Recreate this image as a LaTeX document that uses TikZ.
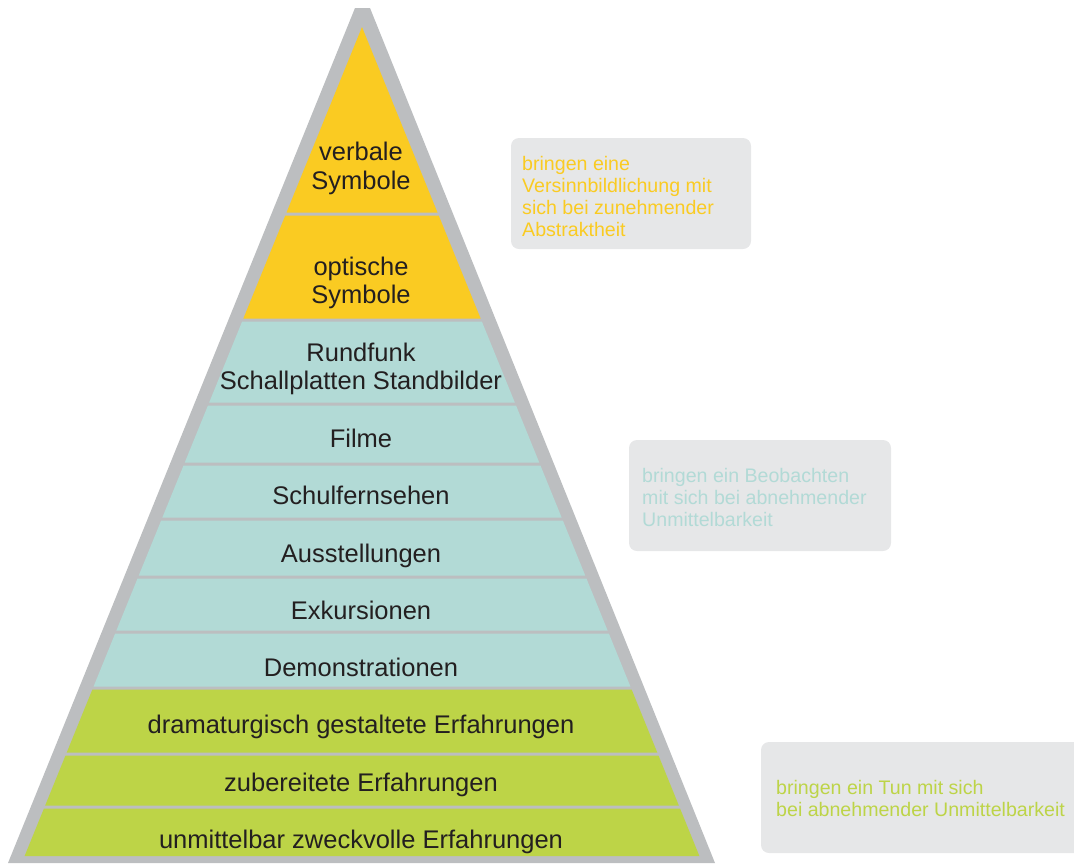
\documentclass[tikz,border=0pt]{standalone}
\usepackage{fontspec}
\setmainfont{Liberation Sans}
\definecolor{pgrey}{HTML}{BCBEC0}
\definecolor{pyellow}{HTML}{FACB22}
\definecolor{pteal}{HTML}{B2DAD6}
\definecolor{pgreen}{HTML}{BDD447}
\definecolor{boxbg}{HTML}{E6E7E8}
\definecolor{ink}{HTML}{231F20}
% one horizontal slice of the inner pyramid, between heights #2 and #3
\newcommand\pyrband[3]{%
  \pgfmathsetmacro\pa{362-0.407*(#2-27)}%
  \pgfmathsetmacro\pb{362+0.407*(#2-27)}%
  \pgfmathsetmacro\pc{362+0.407*(#3-27)}%
  \pgfmathsetmacro\pd{362-0.407*(#3-27)}%
  \fill[#1] (\pa,#2) -- (\pb,#2) -- (\pc,#3) -- (\pd,#3) -- cycle;}
\begin{document}
\begin{tikzpicture}[x=1pt,y=-1pt,
  level/.style={inner sep=0pt, align=center, text=ink,
    font=\fontsize{25.5}{28.5}\selectfont},
  oneline/.style={level, text height=18pt, text depth=5pt},
  note/.style={fill=boxbg, rounded corners=8pt, inner sep=0pt},
  notetext/.style={inner sep=0pt, anchor=west, align=left,
    font=\fontsize{19.6}{22.3}\selectfont}]
\useasboundingbox (0,0) rectangle (1074,863);

% grey frame of the pyramid
\fill[pgrey] (355,8) -- (370,8) -- (715,863) -- (8,863) -- cycle;

% coloured slices
\pyrband{pyellow}{27}{212.5}
\pyrband{pyellow}{215.5}{318.5}
\pyrband{pteal}{321.5}{402.5}
\pyrband{pteal}{405.5}{462.5}
\pyrband{pteal}{465.5}{517.5}
\pyrband{pteal}{520.5}{575.5}
\pyrband{pteal}{578.5}{630.5}
\pyrband{pteal}{633.5}{686.5}
\pyrband{pgreen}{689.5}{752.5}
\pyrband{pgreen}{755.5}{805.5}
\pyrband{pgreen}{808.5}{856}

% level labels
\node[level] (l1) at (361,168.5) {verbale\\Symbole};
\node[level] (l2) at (361,283) {optische\\Symbole};
\node[level] (l3) at (361,369) {Rundfunk\\Schallplatten Standbilder};
\node[oneline] (l4) at (361,441) {Filme};
\node[oneline] (l5) at (361,498) {Schulfernsehen};
\node[oneline] (l6) at (361,556) {Ausstellungen};
\node[oneline] (l7) at (361,613) {Exkursionen};
\node[oneline] (l8) at (361,670) {Demonstrationen};
\node[oneline] (l9) at (361,727) {dramaturgisch gestaltete Erfahrungen};
\node[oneline] (l10) at (361,785) {zubereitete Erfahrungen};
\node[oneline] (l11) at (361,842) {unmittelbar zweckvolle Erfahrungen};

% side notes
\node[note, minimum width=240pt, minimum height=111pt] (n1) at (631,193.5) {};
\node[notetext, text=pyellow] (t1) at (522,196.5)
  {bringen eine\\Versinnbildlichung mit\\sich bei zunehmender\\Abstraktheit};
\node[note, minimum width=262pt, minimum height=111pt] (n2) at (760,495.5) {};
\node[notetext, text=pteal] (t2) at (642,497.5)
  {bringen ein Beobachten\\mit sich bei abnehmender\\Unmittelbarkeit};
\node[note, minimum width=323pt, minimum height=111pt] (n3) at (922.5,797.5) {};
\node[notetext, text=pgreen] (t3) at (776,798.5)
  {bringen ein Tun mit sich\\bei abnehmender Unmittelbarkeit};
\end{tikzpicture}
\end{document}
